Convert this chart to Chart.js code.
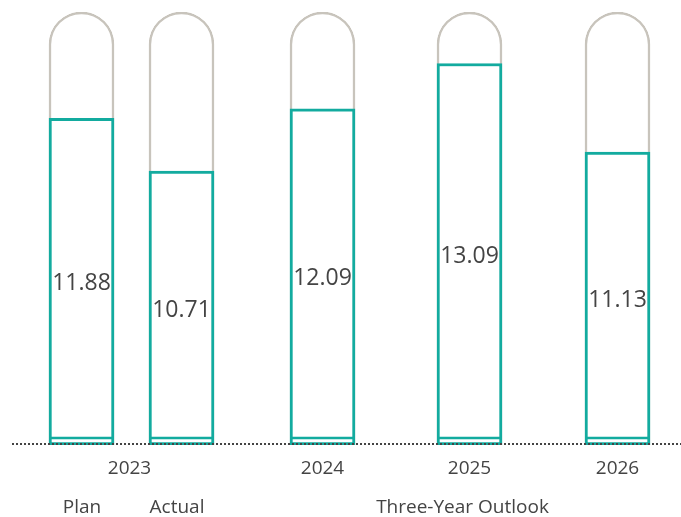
<!DOCTYPE html>
<html>
<head>
<meta charset="utf-8">
<script src="https://cdn.jsdelivr.net/npm/chart.js@4"></script>
<style>
  html, body { margin: 0; padding: 0; background: #fff; }
  #wrap { width: 681px; height: 517px; }
</style>
</head>
<body>
<div id="wrap"><canvas id="chart"></canvas></div>
<script>
// data
const barNames = ["Plan", "Actual", "2024", "2025", "2026"];
const values = [11.88, 10.71, 12.09, 13.09, 11.13];
const yearLabels = ["2023", "2024", "2025", "2026"];
const groupLabels = ["Plan", "Actual", "Three-Year Outlook"];

// layout (slot positions on the linear x scale)
const slots = [0, 1, 2.41, 3.88, 5.36];
const yearSlots = [0.48, 2.41, 3.88, 5.36];
const groupSlots = [0.005, 0.955, 3.81];
const yMin = 4.65;
const trackMax = 14.23;

const teal = "#13ab9f";
const grey = "#c8c4bc";
const textColor = "#444444";
const fontFamily = "'Open Sans', 'Noto Sans', sans-serif";

const decorPlugin = {
    id: "decor",
    afterDatasetsDraw(chart) {
        const ctx = chart.ctx;
        const meta = chart.getDatasetMeta(0);
        const xs = chart.scales.x;
        const area = chart.chartArea;

        ctx.save();
        // inner line near bar bottoms
        ctx.strokeStyle = teal;
        ctx.lineWidth = 2.5;
        meta.data.forEach(bar => {
            const half = bar.width / 2;
            ctx.beginPath();
            ctx.moveTo(bar.x - half, bar.base - 7);
            ctx.lineTo(bar.x + half, bar.base - 7);
            ctx.stroke();
        });

        // dotted baseline
        ctx.strokeStyle = "#444";
        ctx.lineWidth = 2;
        ctx.setLineDash([2, 2]);
        ctx.beginPath();
        ctx.moveTo(area.left, area.bottom - 1);
        ctx.lineTo(area.right, area.bottom - 1);
        ctx.stroke();
        ctx.setLineDash([]);

        // value labels
        ctx.fillStyle = textColor;
        ctx.textAlign = "center";
        ctx.textBaseline = "middle";
        ctx.font = "23px " + fontFamily;
        meta.data.forEach((bar, i) => {
            ctx.fillText(values[i].toFixed(2), bar.x, (bar.y + bar.base) / 2 + 2);
        });

        // year labels
        ctx.font = "19px " + fontFamily;
        yearLabels.forEach((t, i) => {
            ctx.fillText(t, xs.getPixelForValue(yearSlots[i]), area.bottom + 24);
        });
        // group labels
        groupLabels.forEach((t, i) => {
            ctx.fillText(t, xs.getPixelForValue(groupSlots[i]), area.bottom + 63);
        });
        ctx.restore();
    }
};

new Chart(document.getElementById("chart"), {
    type: "bar",
    data: {
        datasets: [
            {
                label: "Value",
                data: values.map((v, i) => ({ x: slots[i], y: v })),
                base: yMin,
                backgroundColor: "#ffffff",
                borderColor: teal,
                borderWidth: 3,
                borderSkipped: false,
                barThickness: 65,
                grouped: false,
                order: 0
            },
            {
                label: "Track",
                data: values.map((v, i) => ({ x: slots[i], y: trackMax })),
                base: yMin,
                backgroundColor: "#ffffff",
                borderColor: grey,
                borderWidth: 2.5,
                borderSkipped: "bottom",
                borderRadius: { topLeft: 33, topRight: 33, bottomLeft: 0, bottomRight: 0 },
                barThickness: 65,
                grouped: false,
                order: 1
            }
        ]
    },
    options: {
        responsive: true,
        maintainAspectRatio: false,
        animation: false,
        layout: { padding: { left: 12, right: 0, top: 12, bottom: 72 } },
        scales: {
            x: { type: "linear", min: -0.695, max: 5.995, offset: false, display: false },
            y: { min: yMin, max: trackMax, display: false }
        },
        plugins: {
            legend: { display: false },
            tooltip: { enabled: false }
        }
    },
    plugins: [decorPlugin]
});
</script>
</body>
</html>
